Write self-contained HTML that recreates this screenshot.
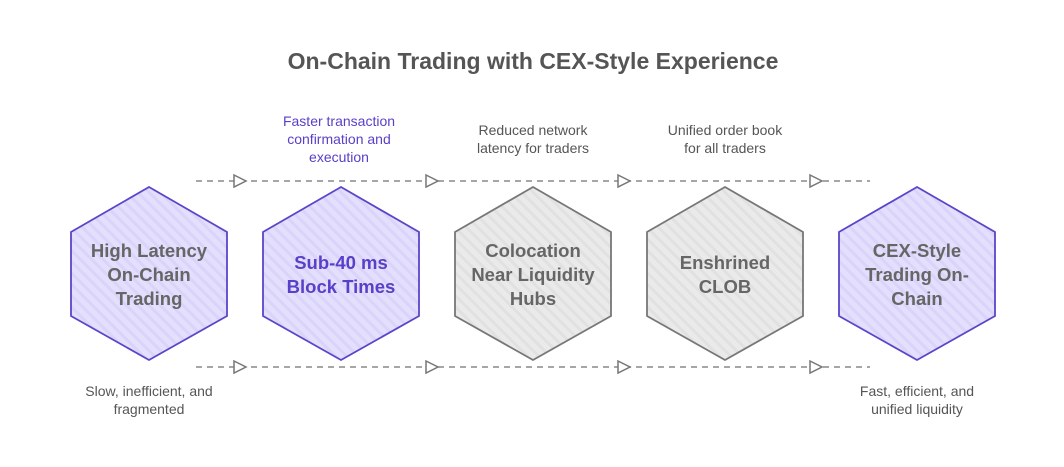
<!DOCTYPE html>
<html><head><style>
body{margin:0;background:#fff;}
svg text{font-family:"Liberation Sans",sans-serif;}
</style></head><body>
<svg width="1064" height="462" viewBox="0 0 1064 462" xmlns="http://www.w3.org/2000/svg">
<defs>
<pattern id="pp" width="8" height="8" patternUnits="userSpaceOnUse" patternTransform="rotate(-45)">
<rect width="8" height="8" fill="#e3dffc"/><rect width="3" height="8" fill="#dad4fa"/></pattern>
<pattern id="gp" width="8" height="8" patternUnits="userSpaceOnUse" patternTransform="rotate(-45)">
<rect width="8" height="8" fill="#eaeaea"/><rect width="3" height="8" fill="#e1e1e1"/></pattern>
<polygon id="hx" points="0,-86.5 78,-41.5 78,42.5 0,86.5 -78,42.5 -78,-41.5"/>
</defs>
<text x="533" y="69" text-anchor="middle" font-size="23" font-weight="bold" fill="#555">On-Chain Trading with CEX-Style Experience</text>
<g stroke="#888" stroke-width="1.5" stroke-dasharray="6,5" fill="none">
<line x1="196" y1="181" x2="870" y2="181"/><line x1="196" y1="367" x2="870" y2="367"/></g>
<g fill="#fff" stroke="#777" stroke-width="1.5">
<polygon points="234,175 246,181 234,187"/><polygon points="426,175 438,181 426,187"/><polygon points="618,175 630,181 618,187"/><polygon points="810,175 822,181 810,187"/>
<polygon points="234,361 246,367 234,373"/><polygon points="426,361 438,367 426,373"/><polygon points="618,361 630,367 618,373"/><polygon points="810,361 822,367 810,373"/>
</g>
<g transform="translate(149,273.5)"><use href="#hx" fill="url(#pp)" stroke="#5b45c8" stroke-width="1.8"/></g>
<g transform="translate(341,273.5)"><use href="#hx" fill="url(#pp)" stroke="#5b45c8" stroke-width="1.8"/></g>
<g transform="translate(533,273.5)"><use href="#hx" fill="url(#gp)" stroke="#777" stroke-width="1.8"/></g>
<g transform="translate(725,273.5)"><use href="#hx" fill="url(#gp)" stroke="#777" stroke-width="1.8"/></g>
<g transform="translate(917,273.5)"><use href="#hx" fill="url(#pp)" stroke="#5b45c8" stroke-width="1.8"/></g>
<g font-size="18.5" font-weight="bold" text-anchor="middle" fill="#666">
<text x="149" y="257">High Latency</text><text x="149" y="281">On-Chain</text><text x="149" y="305">Trading</text>
<text x="341" y="269" fill="#5a3fc8">Sub-40 ms</text><text x="341" y="293" fill="#5a3fc8">Block Times</text>
<text x="533" y="257">Colocation</text><text x="533" y="281">Near Liquidity</text><text x="533" y="305">Hubs</text>
<text x="725" y="269">Enshrined</text><text x="725" y="293">CLOB</text>
<text x="917" y="257">CEX-Style</text><text x="917" y="281">Trading On-</text><text x="917" y="305">Chain</text>
</g>
<g font-size="14" text-anchor="middle" fill="#555">
<text x="339" y="126" fill="#5a3fc8">Faster transaction</text><text x="339" y="144" fill="#5a3fc8">confirmation and</text><text x="339" y="162" fill="#5a3fc8">execution</text>
<text x="533" y="135">Reduced network</text><text x="533" y="153">latency for traders</text>
<text x="725" y="135">Unified order book</text><text x="725" y="153">for all traders</text>
<text x="149" y="396">Slow, inefficient, and</text><text x="149" y="414">fragmented</text>
<text x="917" y="396">Fast, efficient, and</text><text x="917" y="414">unified liquidity</text>
</g>
</svg>
</body></html>
